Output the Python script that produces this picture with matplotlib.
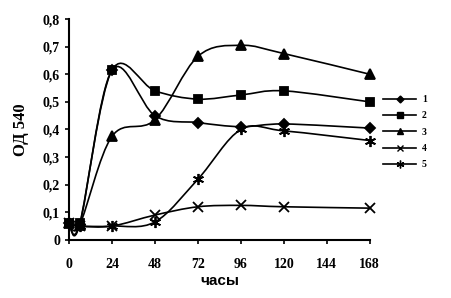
import matplotlib.pyplot as plt
from matplotlib.path import Path
from matplotlib.patches import PathPatch
import numpy as np

hours = [0, 6, 24, 48, 72, 96, 120, 168]
s1 = [0.06, 0.055, 0.615, 0.45, 0.425, 0.41, 0.42, 0.405]
s2 = [0.06, 0.06, 0.615, 0.54, 0.51, 0.525, 0.54, 0.50]
s3 = [0.06, 0.055, 0.375, 0.435, 0.665, 0.705, 0.675, 0.60]
s4 = [0.06, 0.05, 0.05, 0.09, 0.12, 0.125, 0.12, 0.115]
s5 = [0.06, 0.05, 0.05, 0.065, 0.22, 0.40, 0.395, 0.36]
labels = ["1", "2", "3", "4", "5"]
xticks = [0, 24, 48, 72, 96, 120, 144, 168]
yticks = [0, 0.1, 0.2, 0.3, 0.4, 0.5, 0.6, 0.7, 0.8]


def smooth_path(x, y):
    # excel-like smoothed line: cubic bezier, catmull-rom style control points
    p = np.column_stack([x, y]).astype(float)
    n = len(p)
    verts = [p[0]]
    codes = [Path.MOVETO]
    for i in range(n - 1):
        p0 = p[i - 1] if i > 0 else p[i]
        p3 = p[i + 2] if i + 2 < n else p[i + 1]
        c1 = p[i] + (p[i + 1] - p0) / 6
        c2 = p[i + 1] - (p3 - p[i]) / 6
        verts += [c1, c2, p[i + 1]]
        codes += [Path.CURVE4] * 3
    return Path(verts, codes)


plt.rcParams["font.family"] = "Liberation Serif"
fig = plt.figure(figsize=(4.51, 2.98), dpi=100)
ax = fig.add_axes([0.153, 0.195, 0.667, 0.741])

series = [s1, s2, s3, s4, s5]
markers = ["D", "s", "^", "x", (6, 2, 0)]
sizes = [5, 6, 6.5, 7, 8]
zorders = [3, 6, 4, 5, 5]
for vals, m, ms, lab, z in zip(series, markers, sizes, labels, zorders):
    ax.add_patch(PathPatch(smooth_path(hours, vals), fill=False, lw=1.2, ec="black", zorder=2))
    ax.plot(hours, vals, ls="none", marker=m, ms=ms, color="black",
            mew=1.3, clip_on=False, zorder=z)
    ax.plot([], [], color="black", lw=1.2, marker=m, ms=ms * 0.7, mew=1.0, label=lab)

ax.set_xlim(0, 168)
ax.set_ylim(0, 0.8)
ax.set_xticks(xticks)
ax.set_xticklabels([str(t) for t in xticks], fontweight="bold", fontsize=10)
ax.set_yticks(yticks)
ax.set_yticklabels(["0"] + [("%.1f" % t).replace(".", ",") for t in yticks[1:]],
                   fontweight="bold", fontsize=10)
for s in ["top", "right"]:
    ax.spines[s].set_visible(False)
ax.spines["left"].set_linewidth(1.5)
ax.spines["bottom"].set_linewidth(1.5)
ax.tick_params(axis="both", direction="out", length=3, width=1.2)
ax.tick_params(axis="x", pad=10)
ax.set_xlabel("часы", fontfamily="Liberation Sans", fontweight="bold", fontsize=11, labelpad=2)
ax.set_ylabel("ОД 540", fontweight="bold", fontsize=12, labelpad=10)

leg = fig.legend(loc="upper left", bbox_to_anchor=(0.83, 0.71), frameon=False,
                 fontsize=7, handlelength=3.4, labelspacing=0.75, handletextpad=0.6)
for t in leg.get_texts():
    t.set_fontweight("bold")

fig.savefig("out.png", dpi=100)
